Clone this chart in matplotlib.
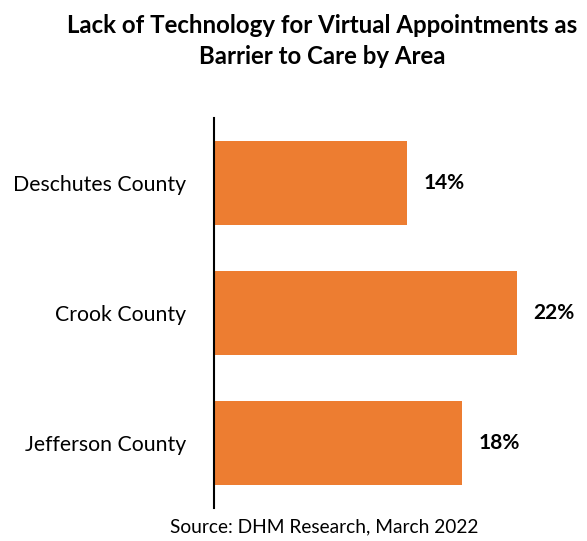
import matplotlib.pyplot as plt

plt.rcParams["font.family"] = ["Lato", "DejaVu Sans"]

areas = ["Deschutes County", "Crook County", "Jefferson County"]
shares = [14, 22, 18]

fig = plt.figure(figsize=(5.87, 5.41), dpi=100)
ax = fig.add_axes([0.3646, 0.061, 0.586, 0.721])

ax.barh(range(len(areas)), shares, height=0.64, color="#ED7D31")
for i, v in enumerate(shares):
    ax.text(v + 1.2, i, f"{v}%", va="center", ha="left",
            fontsize=15, fontweight="bold", color="black")

ax.set_yticks(range(len(areas)))
ax.set_yticklabels(areas, fontsize=15.3)
ax.tick_params(axis="y", length=0, pad=20)
ax.set_xticks([])
ax.set_ylim(2.5, -0.5)
ax.set_xlim(0, 25)
for side in ["top", "right", "bottom"]:
    ax.spines[side].set_visible(False)
ax.spines["left"].set_linewidth(1.5)

fig.text(0.549, 0.924, "Lack of Technology for Virtual Appointments as\nBarrier to Care by Area",
         ha="center", va="center", fontsize=17.3, fontweight="bold", linespacing=1.4)
fig.text(0.552, 0.026, "Source: DHM Research, March 2022", ha="center",
         va="center", fontsize=13.8)

fig.savefig("out.png", dpi=100)
